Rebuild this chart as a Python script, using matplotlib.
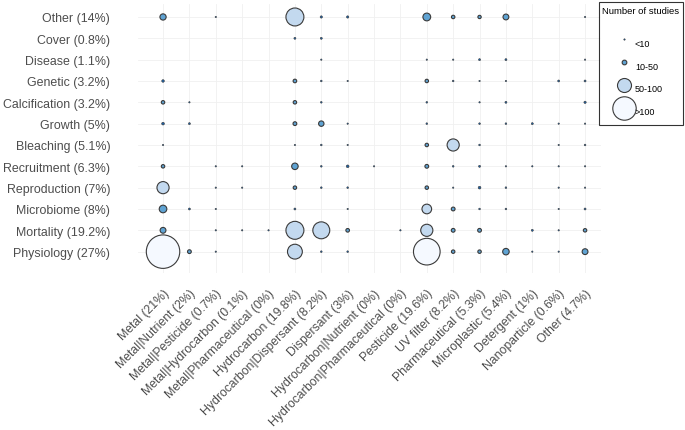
import matplotlib
matplotlib.use("Agg")
import matplotlib.pyplot as plt
from matplotlib.lines import Line2D
import numpy as np

plt.rcParams['font.family'] = ['Liberation Sans', 'DejaVu Sans']

# stressors (x) and effects (y, bottom to top)
stressors = ["Metal (21%)", "Metal|Nutrient (2%)", "Metal|Pesticide (0.7%)",
             "Metal|Hydrocarbon (0.1%)", "Metal|Pharmaceutical (0%)",
             "Hydrocarbon (19.8%)", "Hydrocarbon|Dispersant (8.2%)",
             "Dispersant (3%)", "Hydrocarbon|Nutrient (0%)",
             "Hydrocarbon|Pharmaceutical (0%)", "Pesticide (19.6%)",
             "UV filter (8.2%)", "Pharmaceutical (5.3%)", "Microplastic (5.4%)",
             "Detergent (1%)", "Nanoparticle (0.6%)", "Other (4.7%)"]
effects = ["Physiology (27%)", "Mortality (19.2%)", "Microbiome (8%)",
           "Reproduction (7%)", "Recruitment (6.3%)", "Bleaching (5.1%)",
           "Growth (5%)", "Calcification (3.2%)", "Genetic (3.2%)",
           "Disease (1.1%)", "Cover (0.8%)", "Other (14%)"]

# number of studies per stressor, one list per effect (0 = none)
physiology    = [185, 13, 1, 0, 0, 80, 2, 2, 0, 0, 145, 11, 11, 30, 1, 1, 25]
mortality     = [25, 0, 1, 1, 1, 95, 90, 12, 0, 1, 67, 13, 13, 0, 3, 1, 11]
microbiome    = [38, 3, 1, 0, 0, 3, 0, 1, 0, 0, 55, 13, 2, 2, 0, 1, 3]
reproduction  = [67, 0, 1, 1, 0, 11, 2, 2, 0, 0, 11, 1, 6, 2, 0, 1, 1]
recruitment   = [11, 0, 1, 1, 0, 30, 2, 6, 1, 0, 13, 2, 3, 1, 1, 1, 1]
bleaching     = [1, 0, 0, 0, 0, 1, 2, 1, 0, 0, 11, 67, 2, 0, 0, 1, 2]
growth        = [6, 3, 0, 0, 0, 13, 22, 1, 0, 0, 2, 0, 2, 2, 3, 1, 1]
calcification = [11, 1, 0, 0, 0, 11, 2, 0, 0, 0, 2, 0, 1, 3, 0, 0, 4]
genetic       = [5, 0, 0, 0, 0, 12, 2, 1, 0, 0, 11, 2, 1, 1, 0, 3, 3]
disease       = [0, 0, 0, 0, 0, 0, 1, 0, 0, 0, 1, 1, 3, 3, 0, 0, 1]
cover         = [0, 0, 0, 0, 0, 3, 3, 0, 0, 0, 0, 0, 0, 0, 0, 0, 0]
other         = [28, 0, 1, 0, 0, 95, 4, 4, 0, 0, 40, 11, 10, 25, 0, 0, 1]

rows = [physiology, mortality, microbiome, reproduction, recruitment, bleaching,
        growth, calcification, genetic, disease, cover, other]

bins = ["<10", "10-50", "50-100", ">100"]
bin_colors = ["#1f5fa0", "#5fa3d3", "#c3d9ef", "#f5f9ff"]
legend_n = [1, 18, 76, 126]

DPI = 100


def radius_px(n):
    return np.interp(n, [1, 3, 5, 12, 22, 38, 50, 100, 200],
                     [0.7, 1.0, 1.3, 1.8, 2.7, 3.8, 4.3, 9.5, 18])


def bin_of(n):
    if n < 10:
        return 0
    if n < 50:
        return 1
    if n <= 100:
        return 2
    return 3


fig = plt.figure(figsize=(6.85, 4.31), dpi=DPI)
ax = fig.add_axes([0.2015, 0.3643, 0.6757, 0.6237])

xs, ys, ss, cs, lws = [], [], [], [], []
for j, row in enumerate(rows):
    for i, n in enumerate(row):
        if n <= 0:
            continue
        r = radius_px(n) * 72 / DPI
        xs.append(i)
        ys.append(j)
        ss.append((2 * r) ** 2)
        cs.append(bin_colors[bin_of(n)])
        lws.append(0.4 if n < 10 else 0.8)

order = np.argsort(ss)[::-1]
ax.scatter(np.array(xs)[order], np.array(ys)[order], s=np.array(ss)[order],
           c=np.array(cs)[order], edgecolors="#3a3a3a",
           linewidths=np.array(lws)[order], zorder=3)

ax.set_xticks(range(len(stressors)))
ax.set_xticklabels(stressors, rotation=45, ha="right", va="top",
                   rotation_mode="anchor")
ax.set_yticks(range(len(effects)))
ax.set_yticklabels(effects)
ax.set_xlim(-0.948, len(stressors) - 0.4)
ax.set_ylim(-1.0, len(effects) - 0.4)
ax.tick_params(axis="y", length=0, pad=20, labelsize=8.9, labelcolor="#4d4d4d")
ax.tick_params(axis="x", length=0, pad=10, labelsize=8.8, labelcolor="#4d4d4d")
ax.grid(True, color="#f0f0f0", linewidth=0.6, zorder=0)
ax.set_axisbelow(True)
for sp in ax.spines.values():
    sp.set_visible(False)

handles = []
for k, n in enumerate(legend_n):
    r = radius_px(n) * 72 / DPI
    handles.append(Line2D([], [], ls="", marker="o", markersize=2 * r,
                          markerfacecolor=bin_colors[k], markeredgecolor="#3a3a3a",
                          markeredgewidth=0.4 if k == 0 else 0.8))
leg = fig.legend(handles, bins, title="Number of studies\n", loc="upper right",
                 bbox_to_anchor=(0.997, 0.993), fontsize=6.5, title_fontsize=6.8,
                 frameon=True, fancybox=False, edgecolor="black",
                 handlelength=4.83, handleheight=2.95, labelspacing=0.37,
                 handletextpad=-1.2, borderpad=0.4, borderaxespad=0)
leg.get_frame().set_linewidth(0.8)
leg.get_title().set_linespacing(1.9)
leg._legend_box.align = "left"

fig.savefig("out.png", dpi=DPI)
